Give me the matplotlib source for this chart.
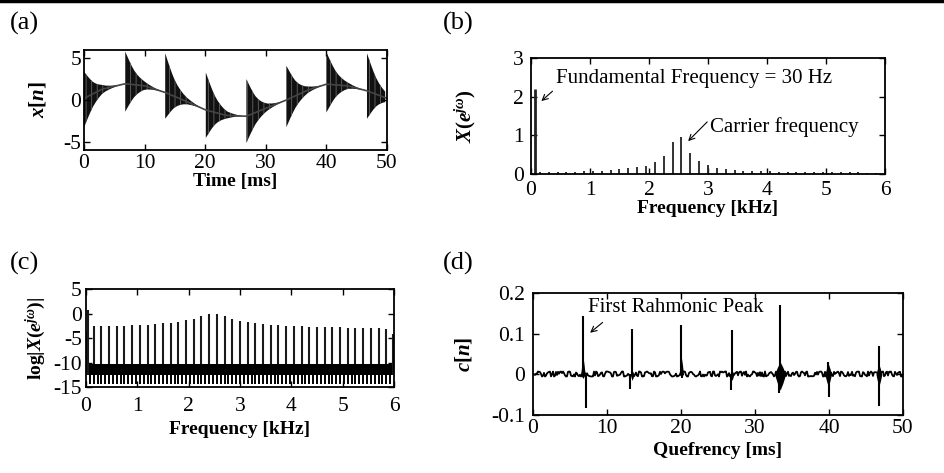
import numpy as np
import matplotlib.pyplot as plt
from matplotlib.lines import Line2D

plt.rcParams['font.family'] = 'Liberation Serif'
plt.rcParams['mathtext.fontset'] = 'custom'
plt.rcParams['mathtext.rm'] = 'Liberation Serif'
plt.rcParams['mathtext.it'] = 'Liberation Serif:italic'
plt.rcParams['mathtext.bf'] = 'Liberation Serif:bold'
plt.rcParams['mathtext.bfit'] = 'Liberation Serif:bold:italic'
plt.rcParams['axes.unicode_minus'] = False
plt.rcParams['hatch.linewidth'] = 0.6

# (a) time signal: pulse onsets, envelope extremes, slow baseline
pulse_ms = [0.0, 6.8, 13.4, 20.1, 26.8, 33.4, 40.0, 46.7]
pulse_top = [3.4, 5.8, 5.6, 3.3, 2.5, 4.1, 5.75, 5.6]
pulse_bottom = [-3.3, -1.4, -2.25, -4.55, -5.15, -3.25, -1.5, -2.25]
base_ms = [0, 3, 6.8, 10, 13.4, 17, 20.1, 23.5, 26.8, 30, 33.4, 37, 40, 43.5, 46.7, 50]
base_val = [0.2, 1.3, 1.95, 1.7, 0.9, -0.2, -1.2, -1.85, -1.95, -1.0, 0.0, 1.2, 1.9, 1.7, 1.1, 0.2]
decay_ms = [0, 0.35, 0.7, 1.1, 1.5, 2.0, 2.5, 3.0, 3.6, 4.3, 5.0, 6.0]
decay_frac = [1, 0.86, 0.72, 0.57, 0.44, 0.32, 0.23, 0.16, 0.1, 0.06, 0.03, 0.0]

# (b) magnitude spectrum, harmonics of 150 Hz
harm_khz = np.arange(1, 40) * 0.15
mag = [0.04, 0.04, 0.05, 0.05, 0.06, 0.07, 0.08, 0.09, 0.10, 0.12,
       0.15, 0.18, 0.22, 0.30, 0.47, 0.82, 0.97, 0.55, 0.33, 0.23,
       0.16, 0.13, 0.11, 0.09, 0.08, 0.07, 0.07, 0.06, 0.06, 0.05,
       0.05, 0.05, 0.04, 0.04, 0.04, 0.04, 0.04, 0.03, 0.03]
fund_khz = 0.06
fund_mag = 2.2

# (c) log spectrum
logmag = [-2.6, -2.6, -2.6, -2.5, -2.5, -2.4, -2.4, -2.3, -2.2, -2.0,
          -1.9, -1.7, -1.4, -1.1, -0.6, -0.2, 0.0, -0.5, -1.1, -1.5,
          -1.8, -2.0, -2.2, -2.3, -2.4, -2.5, -2.6, -2.6, -2.7, -2.7,
          -2.8, -2.8, -2.8, -2.9, -2.9, -2.9, -3.0, -3.0, -3.1]
edge_khz = [0.0, 0.04, 5.99]
edge_log = [-3.5, 0.8, -4.2]
floor_top, floor_mid, floor_bottom = -10.4, -12.6, -14.3

# (d) cepstrum rahmonics
spike_q = [6.75, 13.4, 20.05, 26.9, 33.4, 39.9, 46.75]
spike_up = [0.144, 0.112, 0.122, 0.109, 0.171, 0.031, 0.07]
spike_dn_q = [7.1, 13.15, 20.2, 26.7, 33.3, 40.0, 46.7]
spike_dn = [-0.083, -0.035, -0.01, -0.039, -0.045, -0.055, -0.079]
blob_lo = [-0.01, -0.015, -0.005, -0.015, -0.039, -0.03, -0.03]
blob_hi = [0.045, 0.01, 0.043, 0.01, 0.031, 0.027, 0.025]
blob_w = [0.3, 0.25, 0.3, 0.25, 0.75, 0.45, 0.4]
taper = np.array([0, 0.55, 1, 0.55, 0])

fig = plt.figure(figsize=(9.45, 4.73), dpi=100)
fig.add_artist(Line2D([0, 1], [0.998, 0.998], color='k', lw=2.5))

def style(ax, xpad=3, ypad=3):
    ax.tick_params(direction='in', top=True, right=True, length=4, width=1,
                   labelsize=15.5)
    ax.tick_params(axis='x', pad=xpad)
    ax.tick_params(axis='y', pad=ypad)
    for s in ax.spines.values():
        s.set_linewidth(1.3)

lab = dict(fontsize=14, fontweight='bold')

# (a)
ax = fig.add_axes([0.0889, 0.6829, 0.3206, 0.2114])
for i, t0 in enumerate(pulse_ms):
    t = t0 + np.array(decay_ms)
    t = t[t <= 50]
    f = np.array(decay_frac)[:len(t)]
    b0 = np.interp(t0, base_ms, base_val)
    b = np.interp(t, base_ms, base_val)
    ax.fill_between(t, b - (b0 - pulse_bottom[i]) * f, b + (pulse_top[i] - b0) * f,
                    facecolor='#111111', edgecolor='#666666', hatch='|||', lw=0)
ax.plot(base_ms, base_val, color='#444444', lw=1.2)
ax.set_xlim(0, 50)
ax.set_ylim(-6, 6)
ax.set_xticks([0, 10, 20, 30, 40, 50])
ax.set_yticks([-5, 0, 5])
ax.set_xlabel('Time [ms]', labelpad=0, **lab)
ax.set_ylabel(r'$\mathbfit{x}\mathbf{[}\mathbfit{n}\mathbf{]}$', fontsize=15, labelpad=11)
style(ax, xpad=3, ypad=2)

# (b)
ax = fig.add_axes([0.5619, 0.6321, 0.3746, 0.2452])
ax.vlines(harm_khz, 0, mag, color='#222222', lw=1.3)
ax.vlines([fund_khz], 0, [fund_mag], color='#222222', lw=2)
ax.set_xlim(0, 6)
ax.set_ylim(0, 3)
ax.set_xticks(range(7))
ax.set_yticks([0, 1, 2, 3])
ax.set_xlabel('Frequency [kHz]', labelpad=0, **lab)
ax.set_ylabel(r'$\mathbfit{X}\mathbf{(}\mathbfit{e}^{\mathbfit{j\omega}}\mathbf{)}$', fontsize=15, labelpad=25)
ax.text(0.43, 2.47, 'Fundamental Frequency = 30 Hz', fontsize=15, va='center')
ax.annotate('', xy=(0.14, 1.84), xytext=(0.40, 2.19),
            arrowprops=dict(arrowstyle='->', lw=0.8, color='k'))
ax.text(3.03, 1.22, 'Carrier frequency', fontsize=15, va='center')
ax.annotate('', xy=(2.63, 0.80), xytext=(3.02, 1.40),
            arrowprops=dict(arrowstyle='->', lw=0.8, color='k'))
style(ax, xpad=5, ypad=5)

# (c)
ax = fig.add_axes([0.0910, 0.1818, 0.3259, 0.2072])
ax.fill_between([0.02, 5.98], floor_mid, floor_top, color='k', lw=0)
ax.vlines(np.arange(1, 80) * 0.075, floor_bottom, floor_mid + 0.5, color='k', lw=1.4)
ax.vlines(harm_khz, floor_top, logmag, color='#1a1a1a', lw=1.5)
ax.vlines(edge_khz, floor_mid, edge_log, color='#1a1a1a', lw=1.5)
ax.set_xlim(0, 6)
ax.set_ylim(-15, 5)
ax.set_xticks(range(7))
ax.set_yticks([-15, -10, -5, 0, 5])
ax.set_xlabel('Frequency [kHz]', labelpad=4, **lab)
ax.set_ylabel(r'$\mathbf{log|}\mathbfit{X}\mathbf{(}\mathbfit{e}^{\mathbfit{j\omega}}\mathbf{)|}$',
              fontsize=14, labelpad=4)
style(ax, xpad=7, ypad=3)

# (d)
ax = fig.add_axes([0.5640, 0.1226, 0.3915, 0.2579])
base, = ax.plot([0, 50], [0, 0], color='k', lw=1.3)
base.set_sketch_params(scale=2.5, length=7, randomness=6)
for i, q in enumerate(spike_q):
    xs = q + blob_w[i] * np.array([-1, -0.5, 0, 0.5, 1])
    ax.fill_between(xs, blob_lo[i] * taper, blob_hi[i] * taper, color='k', lw=0)
ax.vlines(spike_q, 0, spike_up, color='k', lw=1.5)
ax.vlines(spike_dn_q, 0, spike_dn, color='k', lw=1.5)
ax.set_xlim(0, 50)
ax.set_ylim(-0.1, 0.2)
ax.set_xticks([0, 10, 20, 30, 40, 50])
ax.set_yticks([-0.1, 0, 0.1, 0.2])
ax.set_yticklabels(['-0.1', '0', '0.1', '0.2'])
ax.set_xlabel('Quefrency [ms]', labelpad=3, **lab)
ax.set_ylabel(r'$\mathbfit{c}\mathbf{[}\mathbfit{n}\mathbf{]}$', fontsize=15, labelpad=12)
ax.text(7.4, 0.164, 'First Rahmonic Peak', fontsize=15, va='center')
ax.annotate('', xy=(7.43, 0.098), xytext=(9.7, 0.132),
            arrowprops=dict(arrowstyle='->', lw=0.8, color='k'))
style(ax, xpad=3, ypad=6)

for x, y, s in [(0.010, 0.974, '(a)'), (0.469, 0.974, '(b)'),
                (0.010, 0.467, '(c)'), (0.469, 0.467, '(d)')]:
    fig.text(x, y, s, fontsize=19, va='top', ha='left')

fig.savefig('out.png', dpi=100)
